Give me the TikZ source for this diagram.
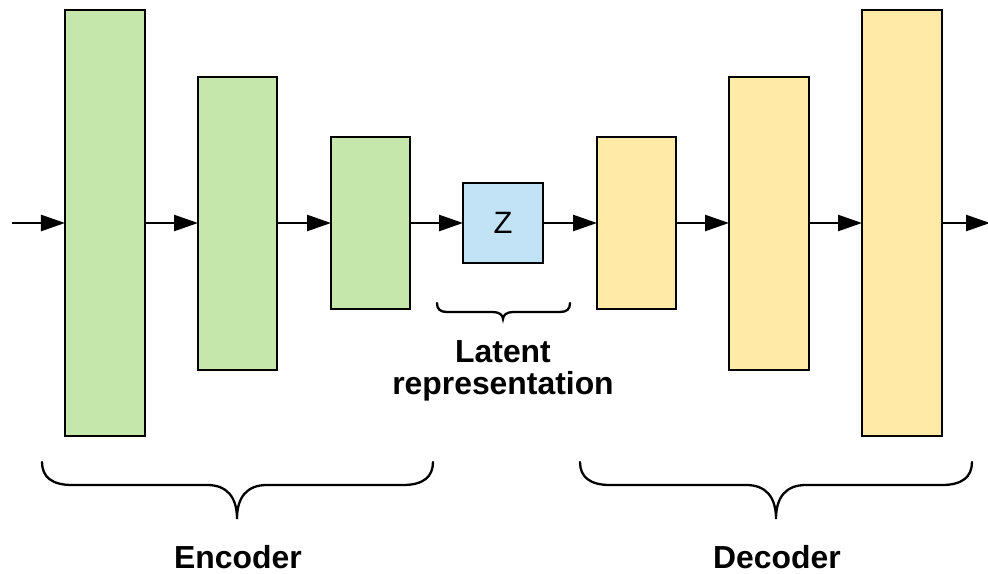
\documentclass[tikz,border=0pt]{standalone}
\usepackage{fontspec}
\setmainfont{Liberation Sans}
\usetikzlibrary{arrows.meta}
\definecolor{encgreen}{HTML}{C6E7AC}
\definecolor{decyellow}{HTML}{FFEAA8}
\definecolor{latblue}{HTML}{C2E3F5}
\tikzset{
  layer/.style={draw=black, line width=2.5bp, inner sep=0pt, outer sep=0pt, rectangle},
  enc/.style={layer, fill=encgreen},
  dec/.style={layer, fill=decyellow},
  lat/.style={layer, fill=latblue, font=\fontsize{31}{36}\selectfont},
  conn/.style={line width=2.5bp, -{Triangle[length=24bp, width=16bp]}},
  brace/.style={line width=2.3bp, line cap=round},
  lbl/.style={font=\fontsize{32}{32}\selectfont\bfseries, align=center, inner sep=0pt}
}
\begin{document}
\begin{tikzpicture}[x=1bp, y=-1bp]
\useasboundingbox (0,0) rectangle (988,574);
\node[enc, minimum width=80bp, minimum height=426bp] (b1) at (105,223) {};
\node[enc, minimum width=79bp, minimum height=293bp] (b2) at (237.5,223.5) {};
\node[enc, minimum width=79bp, minimum height=172bp] (b3) at (370.5,223) {};
\node[lat, minimum width=80bp, minimum height=80bp] (z) at (503,223) {Z};
\node[dec, minimum width=79bp, minimum height=172bp] (b4) at (636.5,223) {};
\node[dec, minimum width=80bp, minimum height=293bp] (b5) at (769,223.5) {};
\node[dec, minimum width=80bp, minimum height=426bp] (b6) at (902,223) {};
\coordinate (in) at (12,223);
\coordinate (out) at (990,223);
\draw[conn] (in) -- (b1.west);
\draw[conn] (b1.east) -- (b2.west |- b1.east);
\draw[conn] (b2.east |- b1.east) -- (b3.west |- b1.east);
\draw[conn] (b3.east) -- (z.west);
\draw[conn] (z.east) -- (b4.west);
\draw[conn] (b4.east) -- (b5.west |- b4.east);
\draw[conn] (b5.east |- b4.east) -- (b6.west);
\draw[conn] (b6.east) -- (out);
% small brace under Z
\draw[brace] (437,303) .. controls (437,309) and (440,312) .. (447,312) -- (493,312)
  .. controls (499,312) and (503,315) .. (503,319)
  .. controls (503,315) and (507,312) .. (513,312) -- (560,312)
  .. controls (567,312) and (570,309) .. (570,303);
\node[lbl] (latent) at (503,371) {Latent\\representation};
% encoder brace
\draw[brace] (42,462) .. controls (42,477) and (52,485) .. (72,485) -- (207,485)
  .. controls (227,485) and (237,497) .. (237,519)
  .. controls (237,497) and (247,485) .. (267,485) -- (403,485)
  .. controls (423,485) and (433,477) .. (433,462);
\node[lbl] (enclbl) at (238,557) {Encoder};
% decoder brace
\draw[brace] (580,462) .. controls (580,477) and (590,485) .. (610,485) -- (746,485)
  .. controls (766,485) and (776,497) .. (776,519)
  .. controls (776,497) and (786,485) .. (806,485) -- (942,485)
  .. controls (962,485) and (972,477) .. (972,462);
\node[lbl] (declbl) at (777,557) {Decoder};
\end{tikzpicture}
\end{document}
